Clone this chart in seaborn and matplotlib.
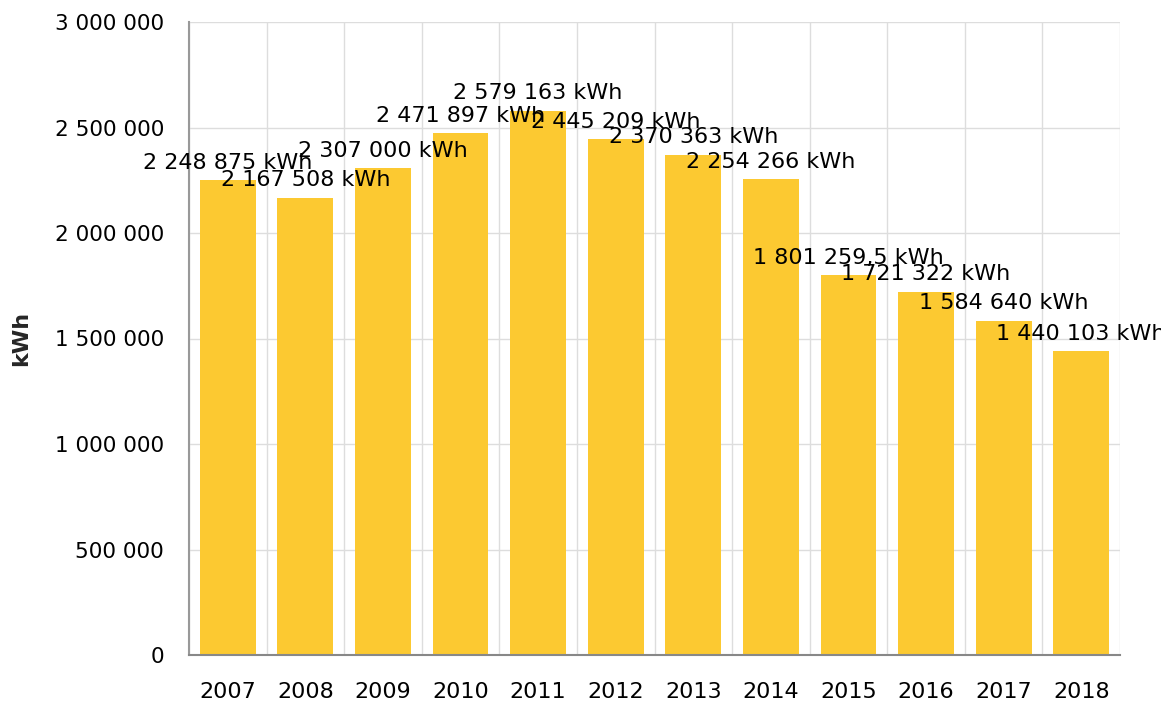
import matplotlib
matplotlib.use("Agg")
import matplotlib.pyplot as plt
import seaborn as sns
import pandas as pd
import numpy as np
from matplotlib.ticker import FixedLocator, FuncFormatter

years = ["2007", "2008", "2009", "2010", "2011", "2012", "2013", "2014", "2015", "2016", "2017", "2018"]
values = [2248875, 2167508, 2307000, 2471897, 2579163, 2445209, 2370363, 2254266, 1801259.5, 1721322, 1584640, 1440103]
value_labels = ["2 248 875 kWh", "2 167 508 kWh", "2 307 000 kWh", "2 471 897 kWh", "2 579 163 kWh",
                "2 445 209 kWh", "2 370 363 kWh", "2 254 266 kWh", "1 801 259,5 kWh", "1 721 322 kWh",
                "1 584 640 kWh", "1 440 103 kWh"]
y_ticks = [0, 500000, 1000000, 1500000, 2000000, 2500000, 3000000]
y_label = "kWh"

sns.set_style("white")
plt.rcParams['font.family'] = ['DejaVu Sans']

df = pd.DataFrame({"year": years, "value": values})

fig = plt.figure(figsize=(11.61, 7.02), dpi=100)
ax = fig.add_axes([189/1161, 47/702, (1120-189)/1161, (655-22)/702])

sns.barplot(data=df, x="year", y="value", color="#FCC931", saturation=1, width=0.72, ax=ax,
            zorder=2, linewidth=0, edgecolor="none")

ax.set_xlim(-0.5, len(years) - 0.5)
ax.set_ylim(0, 3000000)
ax.yaxis.set_major_locator(FixedLocator(y_ticks))
ax.yaxis.set_major_formatter(FuncFormatter(lambda v, p: f"{int(v):,}".replace(",", " ")))

ax.set_xticks(np.arange(-0.5, len(years)), minor=True)
ax.grid(True, axis="y", which="major", color="#dddddd", linewidth=1, zorder=0)
ax.grid(True, axis="x", which="minor", color="#dddddd", linewidth=1, zorder=0)
ax.grid(False, axis="x", which="major")
ax.set_axisbelow(True)
ax.tick_params(axis="x", which="minor", length=0)
ax.tick_params(axis="x", which="major", length=8, width=1.2, color="#999999", labelsize=16, pad=11.5, labelcolor="#000000")
ax.tick_params(axis="y", which="major", length=11, width=1.2, color="#bbbbbb", labelsize=15.5, pad=7, labelcolor="#000000")

for s in ["top", "right"]:
    ax.spines[s].set_visible(False)
ax.spines["left"].set_color("#999999")
ax.spines["left"].set_linewidth(1.5)
ax.spines["bottom"].set_color("#888888")
ax.spines["bottom"].set_linewidth(1.5)

ax.set_xlabel("")
ax.set_ylabel(y_label, fontsize=16, fontweight="bold")
ax.yaxis.set_label_coords(-0.170, 0.5)

for i, (v, lab) in enumerate(zip(values, value_labels)):
    ax.annotate(lab, (i, v), xytext=(0, 12.5), textcoords="offset points", ha="center", va="center",
                fontsize=16, color="#000000", zorder=5, annotation_clip=False, clip_on=False)

fig.savefig("out.png", dpi=100)
